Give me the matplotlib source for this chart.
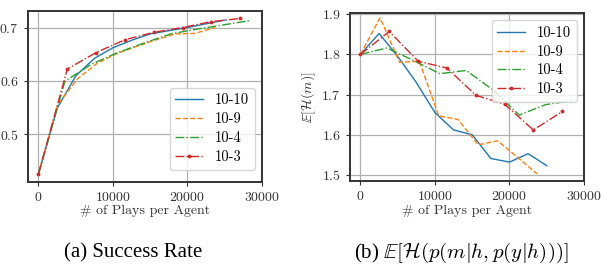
import matplotlib
matplotlib.use("Agg")
import matplotlib.pyplot as plt

plt.rcParams['font.family'] = 'serif'
plt.rcParams['font.serif'] = ['cmr10']
plt.rcParams['mathtext.fontset'] = 'cm'
plt.rcParams['axes.formatter.use_mathtext'] = True

# ---- data ----
labels = ["10-10", "10-9", "10-4", "10-3"]

x_1010 = [0, 2500, 5000, 7500, 10000, 12500, 15000, 17500, 20000, 22500, 25000]
x_109 = [0, 2630, 5260, 7900, 10500, 13100, 15800, 18400, 21000, 23700]
x_104 = [0, 3550, 7100, 10650, 14200, 17750, 21300, 24850, 28400]
x_103 = [0, 3870, 7740, 11600, 15500, 19350, 23200, 27100]

succ_1010 = [0.425, 0.548, 0.609, 0.642, 0.662, 0.676, 0.688, 0.694, 0.700, 0.707, 0.714]
succ_109 = [0.425, 0.556, 0.604, 0.633, 0.651, 0.664, 0.677, 0.688, 0.689, 0.700]
succ_104 = [0.425, 0.599, 0.631, 0.653, 0.671, 0.688, 0.697, 0.705, 0.713]
succ_103 = [0.425, 0.622, 0.653, 0.677, 0.691, 0.700, 0.711, 0.717]

ent_1010 = [1.800, 1.852, 1.795, 1.730, 1.655, 1.612, 1.600, 1.541, 1.532, 1.553, 1.523]
ent_109 = [1.800, 1.891, 1.780, 1.783, 1.647, 1.638, 1.575, 1.585, 1.545, 1.503]
ent_104 = [1.800, 1.816, 1.785, 1.752, 1.760, 1.712, 1.649, 1.675, 1.685]
ent_103 = [1.800, 1.857, 1.783, 1.766, 1.698, 1.676, 1.612, 1.658]

styles = [dict(color='C0', ls='-'),
          dict(color='C1', ls='--'),
          dict(color='C2', ls='-.'),
          dict(color='C3', ls='-.', marker='.', ms=3.5)]

xs = [x_1010, x_109, x_104, x_103]
succ = [succ_1010, succ_109, succ_104, succ_103]
ent = [ent_1010, ent_109, ent_104, ent_103]

fig = plt.figure(figsize=(6.13, 2.68), dpi=100)
ax1 = fig.add_axes([0.0457, 0.321, 0.3817, 0.638])
ax2 = fig.add_axes([0.571, 0.3246, 0.3817, 0.627])

for ax, ys in ((ax1, succ), (ax2, ent)):
    for x, y, lab, st in zip(xs, ys, labels, styles):
        ax.plot(x, y, lw=1, label=lab, **st)
    ax.grid(True, color='#b0b0b0', lw=0.9)
    ax.set_axisbelow(True)
    for s in ax.spines.values():
        s.set_color('#333333')
        s.set_linewidth(1.4)
    ax.tick_params(labelsize=10, length=3, color='#333333', labelcolor='#333333')
    ax.set_xticks([0, 10000, 20000, 30000])
    ax.set_xlim(-1400, 30000)
    ax.set_xlabel('# of Plays per Agent', fontsize=10, color='#333333', labelpad=1)

ax1.set_ylim(0.41, 0.731)
ax1.set_yticks([0.5, 0.6, 0.7])
ax1.set_ylabel('Success Rate (%)', fontsize=10, color='#333333')
ax1.yaxis.set_label_coords(-0.13, 0.5)
ax1.legend(loc='lower right', fontsize=10.5, framealpha=0.8, handlelength=1.9,
           bbox_to_anchor=(1.0, 0.03), labelspacing=0.35)

ax2.set_ylim(1.485, 1.903)
ax2.set_yticks([1.5, 1.6, 1.7, 1.8, 1.9])
ax2.set_ylabel(r'$\mathbb{E}[\mathcal{H}(m)]$', fontsize=10, color='#333333')
ax2.yaxis.set_label_coords(-0.135, 0.5)
ax2.legend(loc='upper right', fontsize=10.5, framealpha=0.8, handlelength=1.9,
           labelspacing=0.35)

fig.text(0.217, 0.056, '(a) Success Rate', ha='center', va='center',
         fontsize=15, family='Liberation Serif')
fig.text(0.752, 0.056, r'(b) $\mathbb{E}[\mathcal{H}(p(m|h,p(y|h)))]$', ha='center',
         va='center', fontsize=15, family='Liberation Serif')

fig.savefig('out.png', dpi=100)
